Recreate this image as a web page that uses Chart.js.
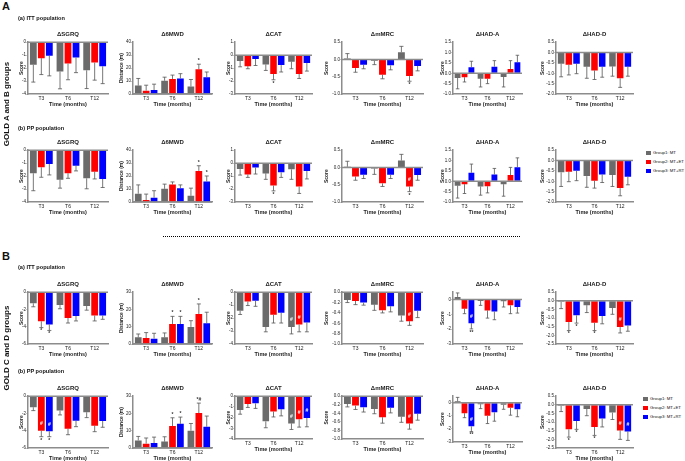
<!DOCTYPE html>
<html>
<head>
<meta charset="utf-8">
<title>Change from baseline by GOLD group</title>
<script src="https://cdn.jsdelivr.net/npm/chart.js@4.4.1/dist/chart.umd.min.js"></script>
<style>
  body { margin: 0; background: #fff; font-family: "Liberation Sans", Arial, sans-serif; color: #111; }
  #page { position: relative; width: 685px; height: 461px; overflow: hidden; }
  #page canvas { position: absolute; }
  .txt { position: absolute; white-space: nowrap; line-height: 1; }
  .big { font-size: 11px; font-weight: bold; }
  .sub { font-size: 5.6px; font-weight: bold; }
  .side { font-size: 8px; font-weight: bold; transform: translate(-50%, -50%) rotate(-90deg); }
  .dots { position: absolute; height: 0; border-top: 1.5px dotted #000; }
  .leg { position: absolute; font-size: 4.3px; line-height: 1; white-space: nowrap; color: #111; }
  .leg i { display: inline-block; width: 5px; height: 4px; margin-right: 2px; vertical-align: middle; }
</style>
</head>
<body>
<div id="page"></div>
<script>
const timepoints = ['T3', 'T6', 'T12'];
const groupNames = ['Group1: MT', 'Group2: MT+ET', 'Group3: MT+RT'];
const measureTitles = ['\u0394SGRQ', '\u03946MWD', '\u0394CAT', '\u0394mMRC', '\u0394HAD-A', '\u0394HAD-D'];
const yTitles = ['Score', 'Distance (m)', 'Score', 'Score', 'Score', 'Score'];

// y axis ticks per measure
const ticksAB = [[0, -1, -2, -3, -4], [0, 10, 20, 30, 40], [1, 0, -1, -2, -3], [0.5, 0, -0.5, -1],
                 [1.5, 1, 0.5, 0, -0.5, -1], [0.5, 0, -0.5, -1, -1.5, -2]];
const ticksCD = [[0, -2, -4, -6], [0, 10, 20, 30], [0, -1, -2, -3, -4], [0, -0.2, -0.4, -0.6, -0.8, -1],
                 [0, -1, -2, -3], [0.5, 0, -0.5, -1, -1.5, -2, -2.5]];
const minAB = [-4, 0, -3, -1, -1, -2];
const maxAB = [0, 40, 1, 0.5, 1.5, 0.5];
const minCD = [-6, 0, -4, -1, -3, -2.5];
const maxCD = [0, 30, 0, 0, 0.5, 0.5];
const decAB = [0, 0, 0, 1, 1, 1];
const decCD = [0, 0, 0, 1, 0, 1];

// means: [measure][group][timepoint]
const abIttMean = [
  [[-1.75, -2.27, -2.17], [-1.23, -1.65, -1.57], [-1.05, -1.18, -1.86]],
  [[6.5, 10.2, 5.8], [2.6, 11.5, 19.1], [3.1, 12.0, 13.0]],
  [[-0.45, -0.72, -0.50], [-0.85, -1.45, -1.45], [-0.30, -0.77, -0.60]],
  [[0.03, -0.04, 0.21], [-0.25, -0.44, -0.48], [-0.15, -0.17, -0.19]],
  [[-0.23, -0.26, -0.18], [-0.19, -0.26, 0.21], [0.29, 0.32, 0.53]],
  [[-0.54, -0.68, -0.67], [-0.59, -0.86, -1.24], [-0.54, -0.68, -0.68]]
];
const abIttErr = [
  [[1.33, 1.33, 1.41], [1.27, 1.25, 1.36], [1.55, 1.17, 1.34]],
  [[5.5, 2.8, 5.4], [4.2, 3.1, 3.9], [4.5, 3.7, 4.0]],
  [[0.45, 0.46, 0.55], [0.20, 0.45, 0.35], [0.50, 0.53, 0.63]],
  [[0.14, 0.11, 0.17], [0.12, 0.12, 0.15], [0.12, 0.13, 0.14]],
  [[0.52, 0.40, 0.48], [0.23, 0.24, 0.40], [0.29, 0.29, 0.34]],
  [[0.63, 0.56, 0.47], [0.49, 0.44, 0.44], [0.48, 0.51, 0.46]]
];
const abPpMean = [
  [[-1.78, -2.29, -2.17], [-1.32, -1.78, -1.66], [-1.07, -1.20, -2.22]],
  [[6.4, 10.2, 4.8], [1.5, 13.5, 24.0], [3.3, 10.7, 15.8]],
  [[-0.46, -0.79, -0.48], [-0.87, -1.73, -1.81], [-0.33, -0.71, -0.61]],
  [[0.02, -0.03, 0.20], [-0.26, -0.46, -0.55], [-0.21, -0.21, -0.22]],
  [[-0.21, -0.25, -0.14], [-0.14, -0.24, 0.30], [0.41, 0.33, 0.68]],
  [[-0.57, -0.75, -0.70], [-0.54, -0.97, -1.33], [-0.49, -0.67, -0.78]]
];
const abPpErr = [
  [[1.35, 0.64, 0.81], [0.77, 0.39, 0.56], [0.84, 0.40, 0.66]],
  [[6.8, 3.6, 5.9], [4.6, 2.0, 4.0], [5.4, 2.5, 4.3]],
  [[0.46, 0.46, 0.77], [0.23, 0.41, 0.53], [0.51, 0.39, 0.61]],
  [[0.16, 0.17, 0.18], [0.11, 0.09, 0.15], [0.11, 0.11, 0.15]],
  [[0.60, 0.42, 0.58], [0.45, 0.32, 0.37], [0.42, 0.29, 0.45]],
  [[0.68, 0.54, 0.55], [0.48, 0.36, 0.37], [0.48, 0.39, 0.39]]
];
const cdIttMean = [
  [[-1.29, -1.49, -1.60], [-3.37, -2.98, -2.70], [-3.73, -2.75, -2.70]],
  [[3.9, 3.9, 9.9], [3.5, 11.6, 17.4], [3.1, 11.6, 12.0]],
  [[-1.44, -2.69, -2.69], [-0.72, -1.75, -2.50], [-0.66, -1.59, -2.34]],
  [[-0.15, -0.24, -0.45], [-0.17, -0.35, -0.56], [-0.20, -0.27, -0.36]],
  [[0.18, -0.09, -0.11], [-0.61, -0.73, -0.39], [-1.59, -0.80, -0.50]],
  [[-0.06, -0.25, -0.41], [-1.23, -1.27, -1.52], [-0.84, -0.88, -1.43]]
];
const cdIttErr = [
  [[0.40, 0.43, 0.48], [0.73, 0.59, 0.63], [0.70, 0.58, 0.44]],
  [[1.9, 2.5, 3.6], [3.1, 4.4, 5.8], [3.1, 4.4, 6.4]],
  [[0.28, 0.37, 0.53], [0.31, 0.63, 0.56], [0.43, 0.79, 0.72]],
  [[0.05, 0.11, 0.11], [0.07, 0.05, 0.08], [0.05, 0.11, 0.13]],
  [[0.27, 0.30, 0.39], [0.34, 0.52, 0.56], [0.39, 0.56, 0.41]],
  [[0.39, 0.43, 0.37], [0.49, 0.45, 0.34], [0.45, 0.45, 0.33]]
];
const cdPpMean = [
  [[-1.28, -1.67, -1.86], [-3.99, -3.76, -3.41], [-4.07, -2.83, -2.87]],
  [[4.4, 3.7, 10.0], [2.5, 12.7, 20.2], [2.9, 14.0, 12.3]],
  [[-1.30, -2.35, -2.54], [-0.73, -1.43, -2.16], [-0.67, -1.21, -2.03]],
  [[-0.18, -0.30, -0.48], [-0.22, -0.49, -0.64], [-0.26, -0.27, -0.41]],
  [[0.11, -0.11, -0.16], [-0.80, -1.00, -0.39], [-1.80, -0.73, -0.50]],
  [[-0.06, -0.24, -0.45], [-1.42, -1.28, -1.48], [-0.93, -0.79, -1.54]]
];
const cdPpErr = [
  [[0.39, 0.50, 0.62], [0.70, 0.70, 0.70], [0.62, 0.70, 0.73]],
  [[2.3, 2.8, 4.2], [3.3, 4.8, 5.8], [3.4, 3.9, 6.2]],
  [[0.38, 0.60, 0.57], [0.32, 0.51, 0.73], [0.47, 0.63, 0.83]],
  [[0.07, 0.11, 0.13], [0.09, 0.14, 0.13], [0.11, 0.12, 0.15]],
  [[0.30, 0.34, 0.34], [0.34, 0.59, 0.56], [0.40, 0.68, 0.57]],
  [[0.33, 0.39, 0.40], [0.45, 0.49, 0.52], [0.49, 0.49, 0.52]]
];

// significance marks: [measure, timepoint, group, text, inside bar]
const abIttMarks = [[1, 2, 1, '*', 0], [2, 1, 1, '*', 0], [3, 2, 1, '*', 0]];
const abPpMarks = [[1, 2, 1, '*', 0], [1, 2, 2, '*', 0], [2, 1, 1, '*', 0], [3, 2, 1, '#', 1], [3, 2, 1, '*', 0]];
const cdIttMarks = [[0, 0, 1, '*', 0], [0, 0, 2, '*', 0], [1, 1, 1, '*', 0], [1, 1, 2, '*', 0], [1, 2, 1, '*', 0],
  [2, 2, 0, '#', 1], [2, 2, 1, '#', 1], [3, 2, 1, '#', 1], [4, 0, 2, '#', 1], [4, 0, 2, '**', 0],
  [5, 0, 1, '*', 0], [5, 0, 2, '*', 0], [5, 1, 1, '*', 0], [5, 2, 1, '#', 1]];
const cdPpMarks = [[0, 0, 1, '#', 1], [0, 0, 1, '*', 0], [0, 0, 2, '#', 1], [0, 0, 2, '*', 0],
  [1, 1, 1, '*', 0], [1, 1, 2, '*', 0], [1, 2, 1, '*#', 0], [2, 2, 0, '#', 1], [2, 2, 1, '#', 1], [2, 2, 2, '#', 1],
  [3, 2, 1, '#', 1], [4, 0, 2, '#', 1], [4, 0, 2, '**', 0], [5, 0, 1, '*', 0], [5, 0, 2, '*', 0],
  [5, 1, 1, '*', 0], [5, 2, 1, '#', 1], [5, 2, 2, '#', 1]];

// layout
const groupColors = ['#6b6b6b', '#ff0000', '#0000ff'];
const axisGray = '#8c8c8c';
const FONT = '"Liberation Sans", Arial, sans-serif';
const plotLeft = [28, 133, 235, 342, 453, 556];
const plotRight = [108, 212, 312, 423, 522, 633];
const yTitleX = [22, 122, 229, 327, 443, 543];
const rowTop = [42, 150, 292, 396];
const plotHeights = [
  [51, 51, 51, 51, 51, 51],
  [51, 51, 51, 51, 51, 51],
  [51, 51, 51, 51, 51, 51],
  [51, 51, 42, 42, 45, 51]
];
const TITLE_H = 11.2, X_H = 14, PAD_R = 2;

const page = document.getElementById('page');

function addText(cls, text, left, top) {
  const d = document.createElement('div');
  d.className = 'txt ' + cls;
  d.textContent = text;
  d.style.left = left + 'px';
  d.style.top = top + 'px';
  page.appendChild(d);
  return d;
}

// error bars, zero line and significance marks
const barExtras = {
  id: 'barExtras',
  afterDatasetsDraw(chart) {
    const ctx = chart.ctx, y = chart.scales.y, area = chart.chartArea;
    ctx.save();
    ctx.strokeStyle = '#555';
    ctx.lineWidth = 0.8;
    chart.data.datasets.forEach((ds, i) => {
      chart.getDatasetMeta(i).data.forEach((bar, j) => {
        const v = ds.data[j], dir = v < 0 ? -1 : 1;
        const tip = y.getPixelForValue(v + dir * ds.errors[j]);
        const cap = bar.width * 0.3;
        ctx.beginPath();
        ctx.moveTo(bar.x, bar.y);
        ctx.lineTo(bar.x, tip);
        ctx.moveTo(bar.x - cap, tip);
        ctx.lineTo(bar.x + cap, tip);
        ctx.stroke();
      });
    });

    const y0 = y.getPixelForValue(0);
    ctx.strokeStyle = axisGray;
    ctx.lineWidth = 1.5;
    ctx.beginPath();
    ctx.moveTo(area.left, y0);
    ctx.lineTo(area.right, y0);
    ctx.stroke();

    ctx.font = 'bold 5px ' + FONT;
    ctx.textAlign = 'center';
    ctx.textBaseline = 'middle';
    chart.data.datasets.forEach((ds, i) => {
      const bars = chart.getDatasetMeta(i).data;
      ds.marks.forEach(([t, text, inside]) => {
        const v = ds.data[t], dir = v < 0 ? -1 : 1;
        const bar = bars[t];
        if (inside) {
          ctx.fillStyle = '#fff';
          ctx.fillText(text, bar.x, bar.y + dir * 7);
        } else {
          ctx.fillStyle = '#333';
          const tip = y.getPixelForValue(v + dir * ds.errors[t]);
          ctx.fillText(text, bar.x, tip - dir * 3.5);
        }
      });
    });
    ctx.restore();
  }
};

function makePanel(r, p, means, errs, marks, ticks, min, max, dec) {
  const yw = plotLeft[p] - (yTitleX[p] - 3);
  const canvas = document.createElement('canvas');
  canvas.width = yw + (plotRight[p] - plotLeft[p]) + PAD_R;
  canvas.height = Math.ceil(TITLE_H + plotHeights[r][p] + X_H);
  canvas.style.left = (plotLeft[p] - yw) + 'px';
  canvas.style.top = Math.round(rowTop[r] - TITLE_H) + 'px';
  page.appendChild(canvas);

  new Chart(canvas, {
    type: 'bar',
    data: {
      labels: timepoints,
      datasets: groupNames.map((name, g) => ({
        label: name,
        data: means[g],
        errors: errs[g],
        marks: marks.filter(m => m[2] === g).map(m => [m[1], m[3], m[4]]),
        backgroundColor: groupColors[g],
        borderWidth: 0,
        barPercentage: 0.85,
        categoryPercentage: 0.9
      }))
    },
    options: {
      responsive: false,
      animation: false,
      layout: { padding: { left: 0, right: PAD_R, top: 0, bottom: 0 } },
      plugins: {
        legend: { display: false },
        tooltip: { enabled: false },
        title: {
          display: true,
          fullSize: false,
          text: measureTitles[p],
          color: '#222',
          font: { family: FONT, size: 6, weight: 'bold' },
          padding: { top: 0, bottom: 4 }
        }
      },
      scales: {
        x: {
          offset: true,
          grid: { display: false, drawTicks: false },
          border: { display: true, color: axisGray, width: 1.5 },
          ticks: { color: '#222', font: { family: FONT, size: 5 }, padding: 2, maxRotation: 0, autoSkip: false },
          title: {
            display: true,
            text: 'Time (months)',
            color: '#222',
            font: { family: FONT, size: 5.5, weight: 'bold' },
            padding: { top: 0, bottom: 0 }
          },
          afterFit: s => { s.height = X_H; }
        },
        y: {
          min: min,
          max: max,
          afterBuildTicks: s => { s.ticks = ticks.map(v => ({ value: v })); },
          grid: { display: true, drawOnChartArea: false, drawTicks: true, tickLength: 1.5, color: axisGray, lineWidth: 1 },
          border: { display: true, color: axisGray, width: 1.5 },
          ticks: {
            color: '#222',
            font: { family: FONT, size: 4.5 },
            padding: 0.5,
            callback: v => Number(v).toFixed(dec)
          },
          title: {
            display: true,
            text: yTitles[p],
            color: '#222',
            font: { family: FONT, size: 5, weight: 'bold' },
            padding: { top: 0, bottom: 0 }
          },
          afterFit: s => { s.width = yw; }
        }
      }
    },
    plugins: [barExtras]
  });
}

const rows = [
  [abIttMean, abIttErr, abIttMarks, ticksAB, minAB, maxAB, decAB],
  [abPpMean, abPpErr, abPpMarks, ticksAB, minAB, maxAB, decAB],
  [cdIttMean, cdIttErr, cdIttMarks, ticksCD, minCD, maxCD, decCD],
  [cdPpMean, cdPpErr, cdPpMarks, ticksCD, minCD, maxCD, decCD]
];
rows.forEach(([mean, err, marks, ticks, mins, maxs, decs], r) => {
  for (let p = 0; p < 6; p++) {
    makePanel(r, p, mean[p], err[p], marks.filter(m => m[0] === p), ticks[p], mins[p], maxs[p], decs[p]);
  }
});

// figure labels
addText('big', 'A', 2, 1);
addText('sub', '(a)  ITT population', 18, 16);
addText('sub', '(b)  PP population', 18, 126);
addText('big', 'B', 2, 251);
addText('sub', '(a)  ITT population', 18, 265);
addText('sub', '(b)  PP population', 18, 369);
addText('side', 'GOLD A and B groups', 7, 104);
addText('side', 'GOLD C and D groups', 7, 348);

const dots = document.createElement('div');
dots.className = 'dots';
dots.style.left = '163px';
dots.style.top = '236px';
dots.style.width = '357px';
page.appendChild(dots);

// shared legends
[[646, 151], [643, 397]].forEach(([lx, ly]) => {
  groupNames.forEach((name, g) => {
    const d = document.createElement('div');
    d.className = 'leg';
    d.style.left = lx + 'px';
    d.style.top = (ly + g * 9) + 'px';
    d.innerHTML = '<i style="background:' + groupColors[g] + '"></i>' + name;
    page.appendChild(d);
  });
});
</script>
</body>
</html>
